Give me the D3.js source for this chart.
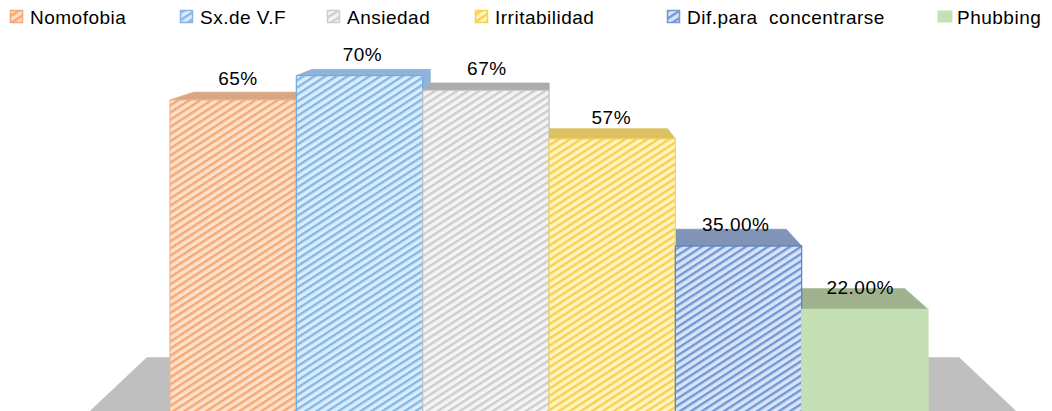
<!DOCTYPE html>
<html>
<head>
<meta charset="utf-8">
<script src="https://cdn.jsdelivr.net/npm/d3@7"></script>
<style>
body { margin: 0; background: #fff; }
text { font-family: "Liberation Sans", Arial, sans-serif; }
</style>
</head>
<body>
<svg id="thesvg" width="1052" height="411"></svg>
<script>
var names = ["Nomofobia", "Sx.de V.F", "Ansiedad", "Irritabilidad", "Dif.para  concentrarse", "Phubbing"];
var values = [65, 70, 67, 57, 35, 22];
var labels = ["65%", "70%", "67%", "57%", "35.00%", "22.00%"];

var stripes = ["#f4a874", "#86b7e2", "#cdcdcd", "#f8d04e", "#7397d3", "#c5e0b4"];
var backs   = ["#fde0c9", "#daedfd", "#f4f4f4", "#fff4c2", "#d8e5f8", "#c5e0b4"];
var tops    = ["#d8a682", "#8fb4d9", "#ababab", "#dcc062", "#8194b8", "#9fb28d"];
var edges   = ["#f2b48c", "#74a9da", "#c2c2c2", "#f6d25e", "#5a7fc2", "#c5e0b4"];
var hatched = [true, true, true, true, true, false];

var w = 1052;
var h = 411;
var svg = d3.select("#thesvg");

// perspective: vanishing point and depth factors
var vp = [553, -25];
var s_bar = 0.938;
var s_floor = 0.866;
var floor_x = [84, 1022];

function proj(x, y, s) {
    return [vp[0] + (x - vp[0]) * s, vp[1] + (y - vp[1]) * s];
}

var xScale = d3.scaleBand().domain(names).range([170, 928]).padding(0);
var yScale = d3.scaleLinear().domain([0, 80]).range([416.5, 26.9]);

var defs = svg.append("defs");
for (let j = 0; j < names.length; j++) {
    var p = defs.append("pattern")
        .attr("id", "hatch" + j)
        .attr("patternUnits", "userSpaceOnUse")
        .attr("width", 8)
        .attr("height", 6)
        .attr("patternTransform", "rotate(-33)");
    p.append("rect").attr("width", 8).attr("height", 6).attr("fill", backs[j]);
    if (hatched[j]) {
        p.append("rect").attr("y", 0).attr("width", 8).attr("height", 2.4).attr("fill", stripes[j]);
    }
}

var line = d3.line();

// floor
var y0 = yScale(0);
svg.append("path")
    .attr("d", line([proj(floor_x[0], y0, 1), proj(floor_x[0], y0, s_floor),
                     proj(floor_x[1], y0, s_floor), proj(floor_x[1], y0, 1)]) + "Z")
    .attr("fill", "#bfbfbf");

var bw = xScale.bandwidth();

// side faces
for (let j = 0; j < names.length; j++) {
    var x0 = xScale(names[j]), x1 = x0 + bw, yt = yScale(values[j]);
    var xs = (x0 + bw / 2 < vp[0]) ? x1 : x0;
    svg.append("path")
        .attr("d", line([proj(xs, yt, 1), proj(xs, yt, s_bar), proj(xs, y0, s_bar), proj(xs, y0, 1)]) + "Z")
        .attr("fill", tops[j]);
}

// top faces
for (let j = 0; j < names.length; j++) {
    var x0 = xScale(names[j]), x1 = x0 + bw, yt = yScale(values[j]);
    svg.append("path")
        .attr("d", line([proj(x0, yt, 1), proj(x0, yt, s_bar), proj(x1, yt, s_bar), proj(x1, yt, 1)]) + "Z")
        .attr("fill", tops[j])
        .attr("stroke", tops[j])
        .attr("stroke-width", 0.8);
}

// front faces
for (let j = 0; j < names.length; j++) {
    svg.append("rect")
        .attr("x", xScale(names[j]))
        .attr("y", yScale(values[j]))
        .attr("width", bw)
        .attr("height", y0 - yScale(values[j]))
        .attr("fill", "url(#hatch" + j + ")")
        .attr("stroke", edges[j])
        .attr("stroke-width", 1.2);
}

// value labels
for (let j = 0; j < names.length; j++) {
    var cx = xScale(names[j]) + bw / 2;
    svg.append("text")
        .attr("x", cx + (vp[0] - cx) * 0.015)
        .attr("y", yScale(values[j]) - 15)
        .attr("text-anchor", "middle")
        .style("font-size", "19px")
        .style("letter-spacing", "0.5px")
        .style("fill", "#000")
        .text(labels[j]);
}

// legend
var legend_x = [10, 180, 327, 475, 667, 937];
for (let j = 0; j < names.length; j++) {
    svg.append("rect")
        .attr("x", legend_x[j] + 0.5)
        .attr("y", 10.5)
        .attr("width", hatched[j] ? 12 : 15)
        .attr("height", 12)
        .attr("fill", "url(#hatch" + j + ")")
        .attr("stroke", hatched[j] ? stripes[j] : "none")
        .attr("stroke-width", 1.5);
    svg.append("text")
        .attr("x", legend_x[j] + 20)
        .attr("y", 24)
        .style("font-size", "19px")
        .style("letter-spacing", "0.5px")
        .style("white-space", "pre")
        .style("fill", "#000")
        .text(names[j]);
}
</script>
</body>
</html>
